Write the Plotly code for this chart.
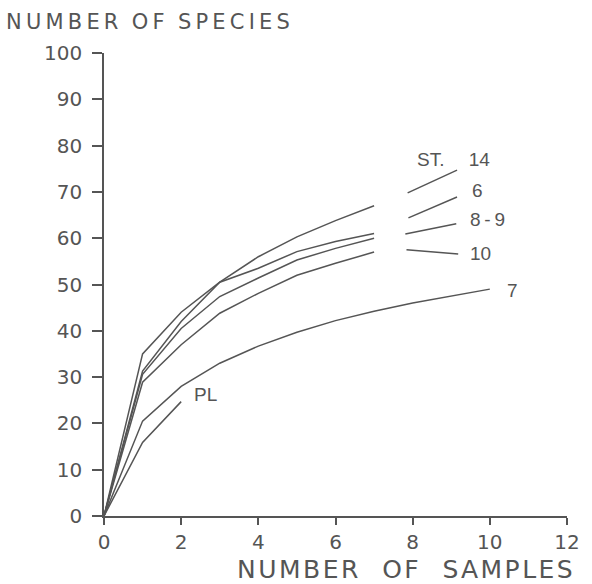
import plotly.graph_objects as go

samples = [0, 1, 2, 3, 4, 5, 6, 7]
st14 = [0, 35, 44, 50.5, 56, 60.3, 63.8, 67]
st6 = [0, 31.3, 42, 50.5, 53.5, 57.1, 59.3, 61]
st89 = [0, 30.6, 40.5, 47.4, 51.4, 55.3, 57.8, 60]
st10 = [0, 28.9, 37, 43.8, 48.1, 52, 54.6, 57]
samples7 = [0, 1, 2, 3, 4, 5, 6, 7, 8, 9, 10]
st7 = [0, 20.5, 28, 33, 36.7, 39.7, 42.2, 44.2, 46, 47.5, 49]
samples_pl = [0, 1, 2]
pl = [0, 15.9, 24.7]

# leader lines (x0, y0, x1, y1) and labels
leaders = {
    "ST. 14": (7.87, 69.8, 9.15, 74.7),
    "6": (7.89, 64.4, 9.15, 68.9),
    "8-9": (7.81, 60.9, 9.13, 63.1),
    "10": (7.84, 57.5, 9.18, 56.6),
}
label_text = ["ST.\u2003 14", "6", "8\u2009-\u20099", "10", "7", "PL"]
label_x = [9.05, 9.67, 9.95, 9.75, 10.6, 2.62]
label_y = [76.9, 70.2, 64.1, 56.8, 48.6, 26.2]

x_title = "NUMBER OF SAMPLES"
y_title = "NUMBER OF SPECIES"


def spaced(s, sep, gap="  "):
    words = s.split(" ")
    return gap.join(sep.join(w) for w in words)


INK = "#555555"
fig = go.Figure()
for xs, ys in [(samples, st14), (samples, st6), (samples, st89), (samples, st10),
               (samples7, st7), (samples_pl, pl)]:
    fig.add_trace(go.Scatter(x=xs, y=ys, mode="lines",
                             line=dict(color=INK, width=1.5), showlegend=False,
                             hoverinfo="skip"))

for k, (x0, y0, x1, y1) in leaders.items():
    fig.add_trace(go.Scatter(x=[x0, x1], y=[y0, y1], mode="lines",
                             line=dict(color=INK, width=1.5), showlegend=False,
                             hoverinfo="skip"))

for t, x, y in zip(label_text, label_x, label_y):
    fig.add_annotation(x=x, y=y, text=t, showarrow=False,
                       font=dict(family="Liberation Sans", size=19, color=INK))

axis_font = dict(family="DejaVu Sans", size=20, color=INK)
fig.update_xaxes(range=[0, 12], tickvals=[0, 2, 4, 6, 8, 10, 12],
                 showline=True, linecolor=INK, linewidth=1.5,
                 ticks="outside", ticklen=7, tickwidth=1.5, tickcolor=INK,
                 showgrid=False, zeroline=False, tickfont=axis_font)
fig.update_yaxes(range=[0, 100], tickvals=list(range(0, 101, 10)),
                 showline=True, linecolor=INK, linewidth=1.5,
                 ticks="outside", ticklen=10, tickwidth=1.5, tickcolor=INK,
                 ticklabelstandoff=6,
                 showgrid=False, zeroline=False, tickfont=axis_font)

fig.add_annotation(xref="paper", yref="paper", x=1.0, y=0, xshift=8, yshift=-53,
                   xanchor="right", yanchor="middle", showarrow=False,
                   text=spaced(x_title, "\u200a", "\u00a0\u00a0\u00a0"),
                   font=dict(family="DejaVu Sans", size=25, color=INK))
fig.add_annotation(xref="paper", yref="paper", x=0, y=1, xshift=-100, yshift=31,
                   xanchor="left", yanchor="middle", showarrow=False,
                   text=spaced(y_title, "\u2009"),
                   font=dict(family="DejaVu Sans", size=21, color=INK))

fig.update_layout(width=592, height=584, plot_bgcolor="white", paper_bgcolor="white",
                  margin=dict(l=104, r=22, t=53, b=68))
fig.write_html("out.html")
